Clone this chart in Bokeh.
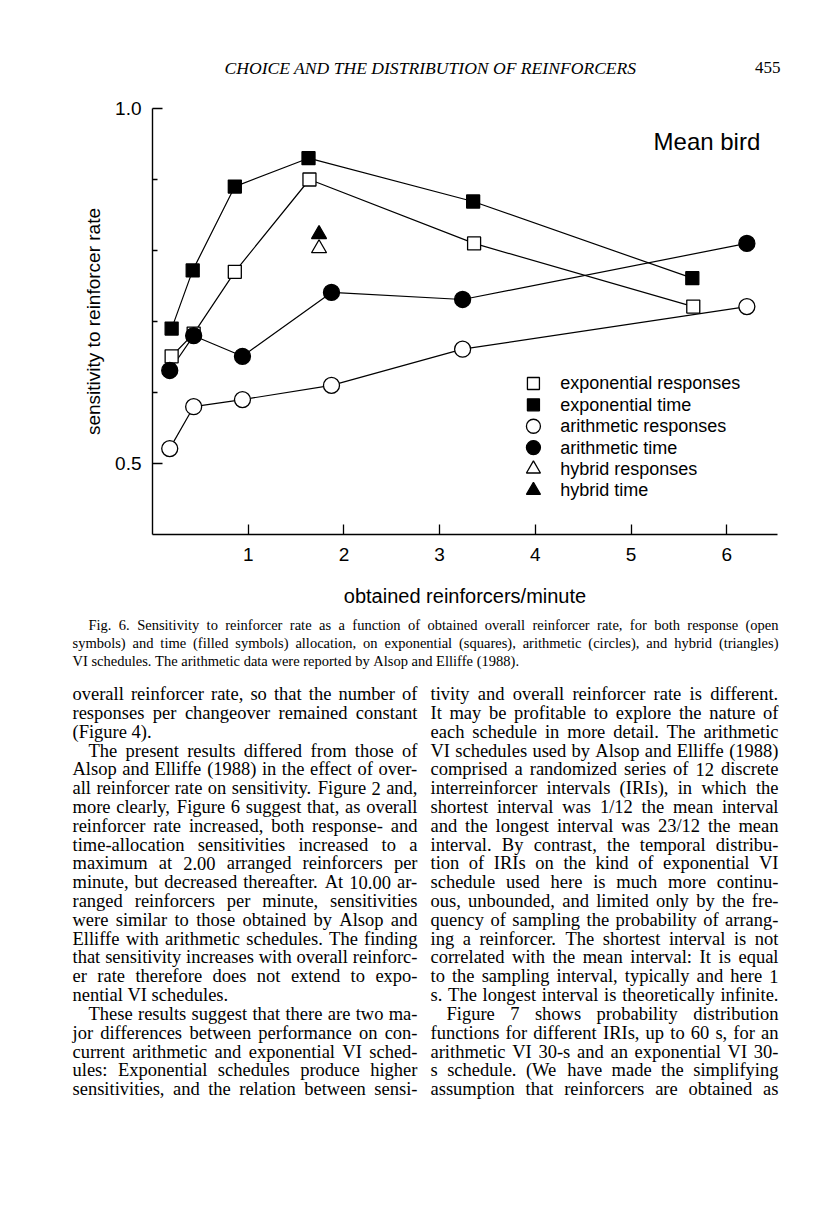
from bokeh.plotting import figure
from bokeh.models import Range1d, FixedTicker, Label
from bokeh.layouts import column
from bokeh.embed import file_html
from bokeh.resources import INLINE
from bokeh.core.properties import value

# ---------------- data ----------------
exp_resp_x = [0.20, 0.43, 0.86, 1.64, 3.36, 5.65]
exp_resp_y = [0.651, 0.683, 0.770, 0.900, 0.810, 0.721]
exp_time_x = [0.20, 0.42, 0.86, 1.63, 3.35, 5.64]
exp_time_y = [0.690, 0.772, 0.890, 0.930, 0.869, 0.761]
arith_x = [0.18, 0.43, 0.94, 1.87, 3.24, 6.21]
arith_resp_y = [0.521, 0.580, 0.590, 0.610, 0.661, 0.721]
arith_time_y = [0.631, 0.680, 0.651, 0.741, 0.731, 0.810]
hybrid_x = [1.74]
hybrid_resp_y = [0.803]
hybrid_time_y = [0.823]

x_ticks = [1, 2, 3, 4, 5, 6]
y_major_ticks = [0.5, 1.0]
y_minor_ticks = [0.6, 0.7, 0.8, 0.9]
y_tick_labels = {0.5: "0.5", 1.0: "1.0"}

legend_labels = ["exponential responses", "exponential time", "arithmetic responses",
                 "arithmetic time", "hybrid responses", "hybrid time"]
panel_title = "Mean bird"
x_title = "obtained reinforcers/minute"
y_title = "sensitivity to reinforcer rate"

running_head = "CHOICE AND THE DISTRIBUTION OF REINFORCERS"
page_number = "455"

caption_lines = [
    "Fig. 6.  Sensitivity to reinforcer rate as a function of obtained overall reinforcer rate, for both response (open",
    "symbols) and time (filled symbols) allocation, on exponential (squares), arithmetic (circles), and hybrid (triangles)",
    "VI schedules. The arithmetic data were reported by Alsop and Elliffe (1988).",
]

left_lines = [
    "overall reinforcer rate, so that the number of",
    "responses per changeover remained constant",
    "(Figure 4).",
    "The present results differed from those of",
    "Alsop and Elliffe (1988) in the effect of over-",
    "all reinforcer rate on sensitivity. Figure 2 and,",
    "more clearly, Figure 6 suggest that, as overall",
    "reinforcer rate increased, both response- and",
    "time-allocation sensitivities increased to a",
    "maximum at 2.00 arranged reinforcers per",
    "minute, but decreased thereafter. At 10.00 ar-",
    "ranged reinforcers per minute, sensitivities",
    "were similar to those obtained by Alsop and",
    "Elliffe with arithmetic schedules. The finding",
    "that sensitivity increases with overall reinforc-",
    "er rate therefore does not extend to expo-",
    "nential VI schedules.",
    "These results suggest that there are two ma-",
    "jor differences between performance on con-",
    "current arithmetic and exponential VI sched-",
    "ules: Exponential schedules produce higher",
    "sensitivities, and the relation between sensi-",
]
right_lines = [
    "tivity and overall reinforcer rate is different.",
    "It may be profitable to explore the nature of",
    "each schedule in more detail. The arithmetic",
    "VI schedules used by Alsop and Elliffe (1988)",
    "comprised a randomized series of 12 discrete",
    "interreinforcer intervals (IRIs), in which the",
    "shortest interval was 1/12 the mean interval",
    "and the longest interval was 23/12 the mean",
    "interval. By contrast, the temporal distribu-",
    "tion of IRIs on the kind of exponential VI",
    "schedule used here is much more continu-",
    "ous, unbounded, and limited only by the fre-",
    "quency of sampling the probability of arrang-",
    "ing a reinforcer. The shortest interval is not",
    "correlated with the mean interval: It is equal",
    "to the sampling interval, typically and here 1",
    "s. The longest interval is theoretically infinite.",
    "Figure 7 shows probability distribution",
    "functions for different IRIs, up to 60 s, for an",
    "arithmetic VI 30-s and an exponential VI 30-",
    "s schedule. (We have made the simplifying",
    "assumption that reinforcers are obtained as",
]
left_indent, left_ragged = {3, 17}, {2, 16}
right_indent, right_ragged = {17}, set()
caption_indent, caption_ragged = {0}, {2}

# ---------------- Times metrics for justification ----------------
_W = {' ': 250, '!': 333, '"': 408, '(': 333, ')': 333, ',': 250, '-': 333, '.': 250, '/': 278,
      ':': 278, ';': 278, '?': 444, "'": 333,
      'A': 722, 'B': 667, 'C': 667, 'D': 722, 'E': 611, 'F': 556, 'G': 722, 'H': 722, 'I': 333,
      'J': 389, 'K': 722, 'L': 611, 'M': 889, 'N': 722, 'O': 722, 'P': 556, 'Q': 722, 'R': 667,
      'S': 556, 'T': 611, 'U': 722, 'V': 722, 'W': 944, 'X': 722, 'Y': 722, 'Z': 611,
      'a': 444, 'b': 500, 'c': 444, 'd': 500, 'e': 444, 'f': 333, 'g': 500, 'h': 500, 'i': 278,
      'j': 278, 'k': 500, 'l': 278, 'm': 778, 'n': 500, 'o': 500, 'p': 500, 'q': 500, 'r': 333,
      's': 389, 't': 278, 'u': 500, 'v': 500, 'w': 722, 'x': 500, 'y': 500, 'z': 444}


def em(s):
    return sum(_W.get(c, 500) for c in s) / 1000.0


def fit_size(lines, x0, x1, indent, indents, ragged, min_space, cap):
    best = cap
    for i, ln in enumerate(lines):
        if i in ragged:
            continue
        words = ln.split()
        avail = x1 - x0 - (indent if i in indents else 0)
        need = sum(em(w) for w in words) + min_space * (len(words) - 1)
        best = min(best, avail / need)
    return best


def justify(lines, x0, x1, y0, pitch, fs, indent, indents, ragged):
    xs, ys, ts = [], [], []
    for i, ln in enumerate(lines):
        words = ln.split()
        left = x0 + (indent if i in indents else 0)
        widths = [em(w) * fs for w in words]
        if i in ragged or len(words) < 2:
            gap = 0.25 * fs
        else:
            gap = (x1 - left - sum(widths)) / (len(words) - 1)
        x = left
        for w, wd in zip(words, widths):
            xs.append(x)
            ys.append(y0 + i * pitch)
            ts.append(w)
            x += wd + gap
    return xs, ys, ts


def text_fig(top, bottom):
    f = figure(width=800, height=bottom - top, x_range=Range1d(0, 800), y_range=Range1d(bottom, top),
               output_backend="svg", toolbar_location=None, min_border=0,
               x_axis_location=None, y_axis_location=None, frame_align=False)
    f.outline_line_color = None
    f.grid.visible = False
    f.background_fill_color = "white"
    f.border_fill_color = "white"
    return f


SERIF = "Liberation Serif"
SANS = "Liberation Sans"
INK = "black"

# ---------------- header ----------------
head = text_fig(0, 80)
head.text(x=[430], y=[67], text=[running_head], text_align="center", text_baseline="alphabetic",
          text_font=value(SERIF), text_font_style="italic", text_font_size="17.6px", text_color=INK)
head.text(x=[780], y=[67], text=[page_number], text_align="right", text_baseline="alphabetic",
          text_font=value(SERIF), text_font_size="17px", text_color=INK)

# ---------------- chart ----------------
p = figure(width=800, height=532, x_range=Range1d(0, 6.53), y_range=Range1d(0.4, 1.0),
           output_backend="svg", toolbar_location=None, frame_align=False,
           min_border_left=152, min_border_right=23, min_border_top=28, min_border_bottom=78)
p.outline_line_color = None
p.grid.visible = False
p.background_fill_color = "white"
p.border_fill_color = "white"

for ax in (p.xaxis[0], p.yaxis[0]):
    ax.axis_line_width = 1.4
    ax.axis_line_color = INK
    ax.major_tick_line_color = INK
    ax.minor_tick_line_color = INK
    ax.major_tick_line_width = 1.3
    ax.minor_tick_line_width = 1.3
    ax.major_tick_in = 10
    ax.major_tick_out = 0
    ax.major_label_text_font = SANS
    ax.major_label_text_font_size = "19px"
    ax.major_label_text_color = INK
    ax.axis_label_text_font = SANS
    ax.axis_label_text_font_style = "normal"
    ax.axis_label_text_color = INK

p.xaxis.ticker = FixedTicker(ticks=x_ticks, minor_ticks=[])
p.xaxis.minor_tick_in = 0
p.xaxis.minor_tick_out = 0
p.xaxis.major_label_standoff = 13
p.xaxis.axis_label = x_title
p.xaxis.axis_label_text_font_size = "20px"
p.xaxis.axis_label_standoff = 21

p.yaxis.ticker = FixedTicker(ticks=y_major_ticks, minor_ticks=y_minor_ticks)
p.yaxis.major_label_overrides = y_tick_labels
p.yaxis.minor_tick_in = 5
p.yaxis.minor_tick_out = 0
p.yaxis.major_label_standoff = 11
p.yaxis.axis_label = y_title
p.yaxis.axis_label_text_font_size = "19px"
p.yaxis.axis_label_standoff = 8

LW = 1.2
p.line(exp_resp_x, exp_resp_y, line_color=INK, line_width=LW)
p.line(exp_time_x, exp_time_y, line_color=INK, line_width=LW)
p.line(arith_x, arith_resp_y, line_color=INK, line_width=LW)
p.line(arith_x, arith_time_y, line_color=INK, line_width=LW)

styles = [
    dict(marker="square", size=13, fill_color="white"),
    dict(marker="square", size=13, fill_color=INK),
    dict(marker="circle", size=16, fill_color="white"),
    dict(marker="circle", size=16, fill_color=INK),
    dict(marker="triangle", size=15, fill_color="white"),
    dict(marker="triangle", size=15, fill_color=INK),
]
series = [(exp_resp_x, exp_resp_y), (exp_time_x, exp_time_y), (arith_x, arith_resp_y),
          (arith_x, arith_time_y), (hybrid_x, hybrid_resp_y), (hybrid_x, hybrid_time_y)]
for (sx, sy), st in zip(series, styles):
    p.scatter(sx, sy, line_color=INK, line_width=1.3, **st)

# legend (key symbols + labels), rows stacked downward from an anchor
leg_x, leg_text_x, leg_y0, leg_dy = 3.98, 4.26, 0.6127, 0.0301
leg_sizes = [12, 12, 14, 14, 14, 14]
for i, (lab, st) in enumerate(zip(legend_labels, styles)):
    yy = leg_y0 - i * leg_dy
    st2 = dict(st)
    st2["size"] = leg_sizes[i]
    p.scatter([leg_x], [yy], line_color=INK, line_width=1.3, **st2)
p.text(x=[leg_text_x] * len(legend_labels),
       y=[leg_y0 - i * leg_dy for i in range(len(legend_labels))],
       text=legend_labels, text_align="left", text_baseline="middle",
       text_font=value(SANS), text_font_size="18px", text_color=INK)

p.add_layout(Label(x=6.35, y=0.953, text=panel_title, text_align="right", text_baseline="middle",
                   text_font=SANS, text_font_size="24px", text_color=INK))

# ---------------- caption + body text ----------------
body = text_fig(612, 1191)

cap_x0, cap_x1 = 72, 778
cap_fs = fit_size(caption_lines, cap_x0, cap_x1, 16, caption_indent, caption_ragged, 0.25, 14.5)
cx, cy, ct = justify(caption_lines, cap_x0, cap_x1, 621 + 0.25 * cap_fs, 18, cap_fs, 16,
                     caption_indent, caption_ragged)
body.text(x=cx, y=cy, text=ct, text_align="left", text_baseline="alphabetic",
          text_font=value(SERIF), text_font_size=f"{cap_fs:.2f}px", text_color=INK)

L0, L1, R0, R1 = 72, 417, 430, 778
fs_l = fit_size(left_lines, L0, L1, 16, left_indent, left_ragged, 0.2, 18.5)
fs_r = fit_size(right_lines, R0, R1, 16, right_indent, right_ragged, 0.2, 18.5)
body_fs = min(fs_l, fs_r)
pitch = 18.81
base0 = 689 + 0.25 * body_fs
lx, ly, lt = justify(left_lines, L0, L1, base0, pitch, body_fs, 16, left_indent, left_ragged)
rx, ry, rt = justify(right_lines, R0, R1, base0, pitch, body_fs, 16, right_indent, right_ragged)
body.text(x=lx + rx, y=ly + ry, text=lt + rt, text_align="left", text_baseline="alphabetic",
          text_font=value(SERIF), text_font_size=f"{body_fs:.2f}px", text_color=INK)

page = column(head, p, body, spacing=0)
open("out.html", "w").write(file_html(page, INLINE))
